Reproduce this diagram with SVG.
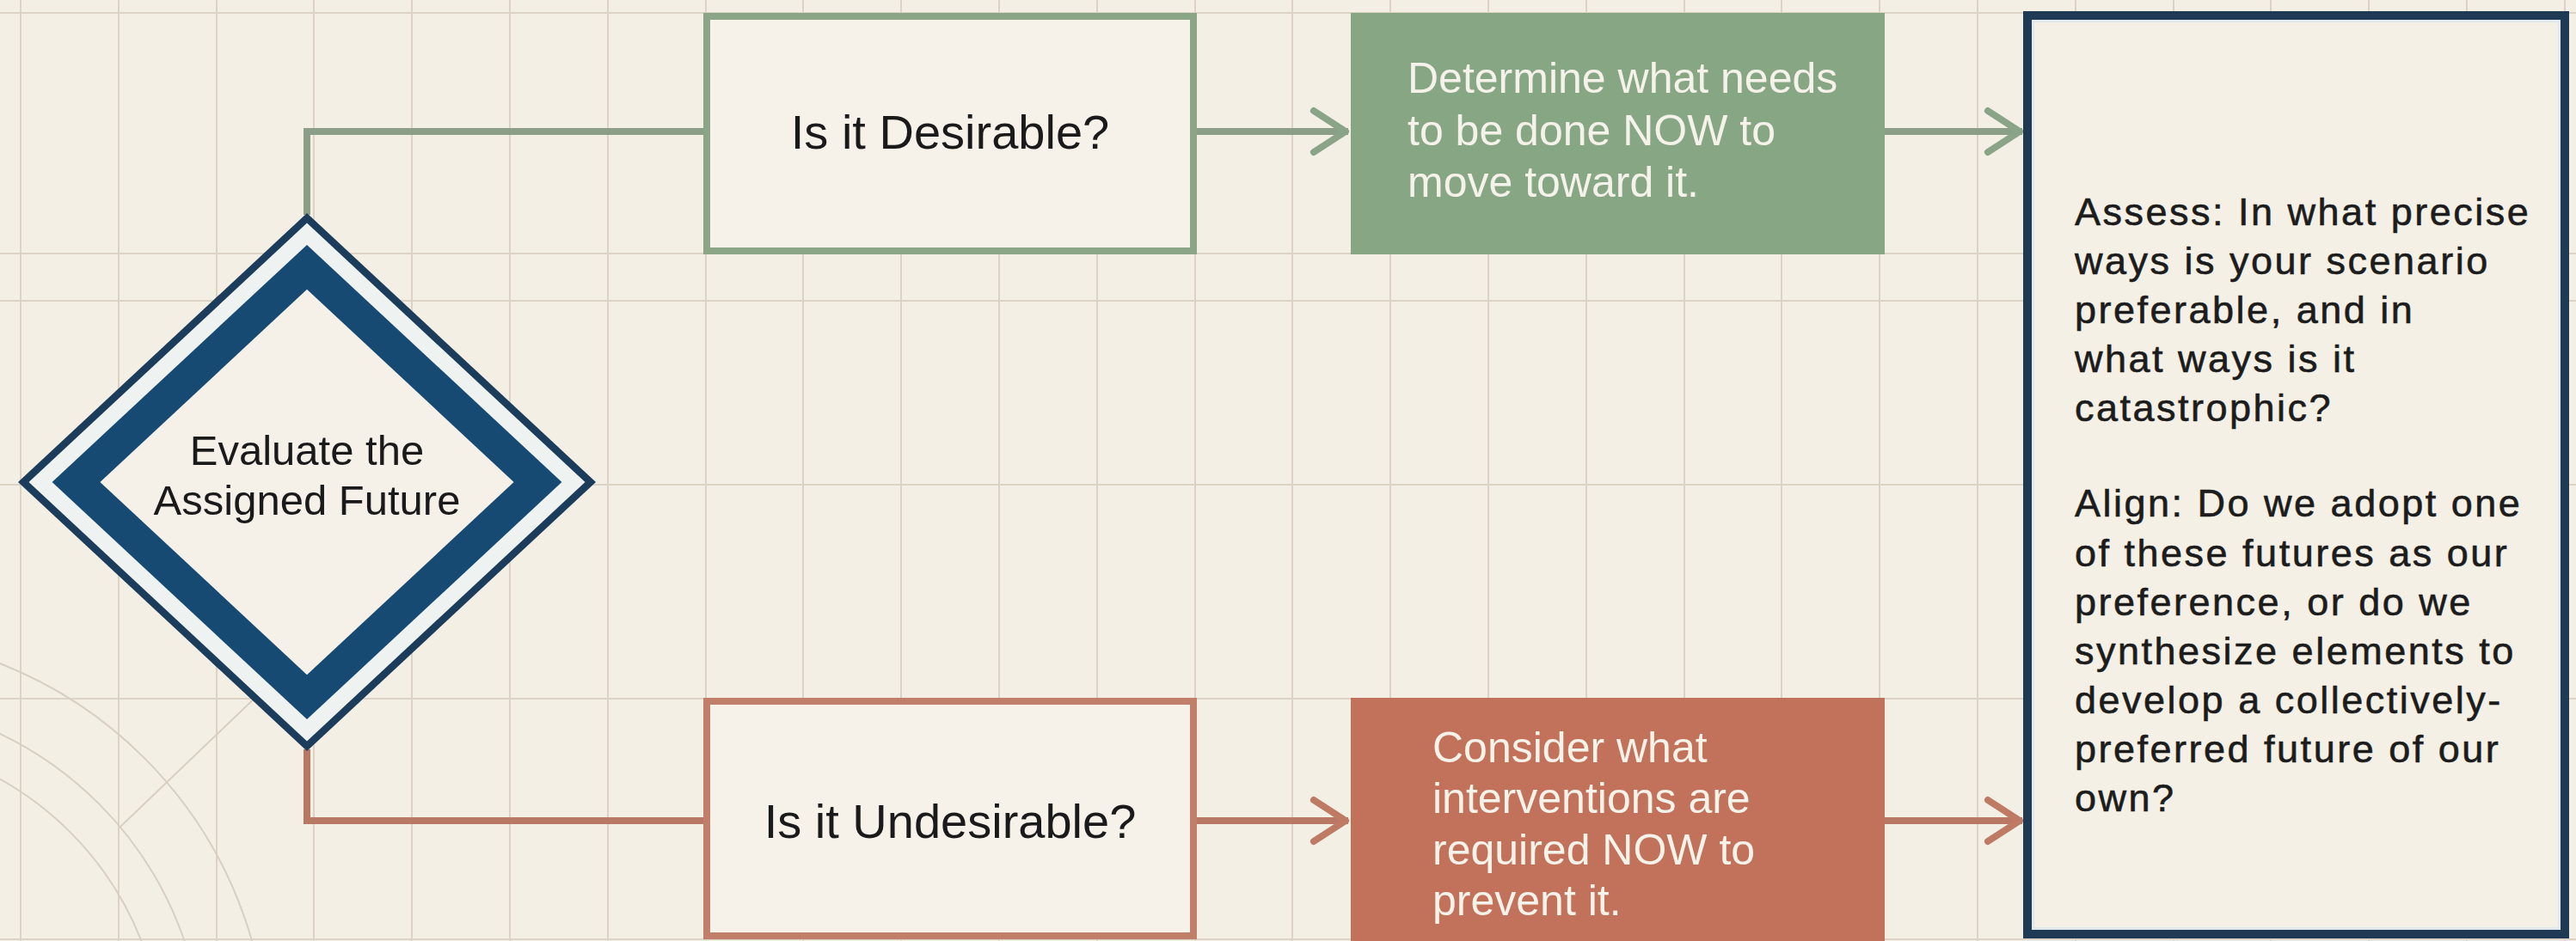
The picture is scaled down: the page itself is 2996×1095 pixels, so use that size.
<svg xmlns="http://www.w3.org/2000/svg" width="2996" height="1095" viewBox="0 0 2996 1095">
  <style>
    .grid { stroke: #dcd2c5; stroke-width: 2; fill: none; }
    .arc { stroke: #d8cfc3; stroke-width: 2; fill: none; }
    .txt { font-family: "Liberation Sans", Arial, sans-serif; fill: #1a1a1a; }
    .wtxt { font-family: "Liberation Sans", Arial, sans-serif; fill: #f5f2ea; font-size: 50px; }
    .panel { font-family: "Liberation Sans", Arial, sans-serif; fill: #1c1c1c; stroke: #1c1c1c; stroke-width: 0.6; font-size: 45px; letter-spacing: 2.5px; }
    .cg { stroke: #8b9f88; stroke-width: 8; fill: none; }
    .cr { stroke: #b97864; stroke-width: 8; fill: none; }
  </style>
  <defs>
    <marker id="arrow-green" viewBox="-50 -30 56 60" markerWidth="56" markerHeight="60" refX="0" refY="0" orient="auto" markerUnits="userSpaceOnUse">
      <path d="M-40,-24 L-3,0 L-40,24" fill="none" stroke="#8aa487" stroke-width="8" stroke-linecap="round" stroke-linejoin="round"/>
    </marker>
    <marker id="arrow-red" viewBox="-50 -30 56 60" markerWidth="56" markerHeight="60" refX="0" refY="0" orient="auto" markerUnits="userSpaceOnUse">
      <path d="M-40,-24 L-3,0 L-40,24" fill="none" stroke="#bf7a64" stroke-width="8" stroke-linecap="round" stroke-linejoin="round"/>
    </marker>
  </defs>

  <rect x="0" y="0" width="2996" height="1095" fill="#f4efe4"/>

  <g id="background-grid">
    <g class="grid">
      <line x1="0" y1="15" x2="2996" y2="15"/>
      <line x1="0" y1="295" x2="2996" y2="295"/>
      <line x1="0" y1="350" x2="2996" y2="350"/>
      <line x1="0" y1="564" x2="2996" y2="564"/>
      <line x1="0" y1="813" x2="2996" y2="813"/>
      <line x1="0" y1="1093" x2="2996" y2="1093"/>
      <line x1="24" y1="0" x2="24" y2="1095"/>
      <line x1="138" y1="0" x2="138" y2="1095"/>
      <line x1="252" y1="0" x2="252" y2="1095"/>
      <line x1="365" y1="0" x2="365" y2="1095"/>
      <line x1="479" y1="0" x2="479" y2="1095"/>
      <line x1="593" y1="0" x2="593" y2="1095"/>
      <line x1="707" y1="0" x2="707" y2="1095"/>
      <line x1="821" y1="0" x2="821" y2="1095"/>
      <line x1="934" y1="0" x2="934" y2="1095"/>
      <line x1="1048" y1="0" x2="1048" y2="1095"/>
      <line x1="1162" y1="0" x2="1162" y2="1095"/>
      <line x1="1276" y1="0" x2="1276" y2="1095"/>
      <line x1="1390" y1="0" x2="1390" y2="1095"/>
      <line x1="1503" y1="0" x2="1503" y2="1095"/>
      <line x1="1617" y1="0" x2="1617" y2="1095"/>
      <line x1="1731" y1="0" x2="1731" y2="1095"/>
      <line x1="1845" y1="0" x2="1845" y2="1095"/>
      <line x1="1959" y1="0" x2="1959" y2="1095"/>
      <line x1="2072" y1="0" x2="2072" y2="1095"/>
      <line x1="2186" y1="0" x2="2186" y2="1095"/>
      <line x1="2300" y1="0" x2="2300" y2="1095"/>
      <line x1="2414" y1="0" x2="2414" y2="1095"/>
      <line x1="2528" y1="0" x2="2528" y2="1095"/>
      <line x1="2641" y1="0" x2="2641" y2="1095"/>
      <line x1="2755" y1="0" x2="2755" y2="1095"/>
      <line x1="2869" y1="0" x2="2869" y2="1095"/>
      <line x1="2983" y1="0" x2="2983" y2="1095"/>
    </g>
    <g class="arc">
      <circle cx="-180" cy="1230" r="370"/>
      <circle cx="-180" cy="1230" r="417"/>
      <circle cx="-180" cy="1230" r="492"/>
      <line x1="140" y1="962" x2="330" y2="780"/>
    </g>
  </g>

  <g id="connectors">
    <path class="cg" d="M357,250 V153 H820"/>
    <path class="cr" d="M357,872 V955 H820"/>
    <line class="cg" x1="1392" y1="153" x2="1568" y2="153" marker-end="url(#arrow-green)"/>
    <line class="cg" x1="2192" y1="153" x2="2352" y2="153" marker-end="url(#arrow-green)"/>
    <line class="cr" x1="1392" y1="955" x2="1568" y2="955" marker-end="url(#arrow-red)"/>
    <line class="cr" x1="2192" y1="955" x2="2352" y2="955" marker-end="url(#arrow-red)"/>
  </g>

  <g id="node-evaluate">
    <polygon points="357,248 693,561 357,874 21,561" fill="#1b3c5a"/>
    <polygon points="357,259.6 680.5,561 357,862.4 33.5,561" fill="#eef2f1"/>
    <polygon points="357,284.9 653.4,561 357,837.1 60.6,561" fill="#164a72"/>
    <polygon points="357,336.8 597.6,561 357,785.2 116.4,561" fill="#f5f1e8"/>
    <text class="txt" font-size="49" text-anchor="middle" x="357" y="541">Evaluate the</text>
    <text class="txt" font-size="49" text-anchor="middle" x="357" y="599">Assigned Future</text>
  </g>

  <g id="node-desirable">
    <rect x="822" y="19" width="566" height="273" fill="#f6f2e9" stroke="#8aa687" stroke-width="8"/>
    <text class="txt" font-size="56" text-anchor="middle" x="1105" y="173">Is it Desirable?</text>
  </g>

  <g id="node-undesirable">
    <rect x="822" y="816" width="566" height="273" fill="#f6f2e9" stroke="#c17e68" stroke-width="8"/>
    <text class="txt" font-size="56" text-anchor="middle" x="1105" y="975">Is it Undesirable?</text>
  </g>

  <g id="node-determine">
    <rect x="1571" y="15" width="621" height="281" fill="#87a684"/>
    <text class="wtxt" x="1637" y="108">Determine what needs</text>
    <text class="wtxt" x="1637" y="169">to be done NOW to</text>
    <text class="wtxt" x="1637" y="229">move toward it.</text>
  </g>

  <g id="node-consider">
    <rect x="1571" y="812" width="621" height="283" fill="#c2725a"/>
    <text class="wtxt" x="1666" y="887">Consider what</text>
    <text class="wtxt" x="1666" y="946">interventions are</text>
    <text class="wtxt" x="1666" y="1006">required NOW to</text>
    <text class="wtxt" x="1666" y="1065">prevent it.</text>
  </g>

  <g id="node-assess-align">
    <rect x="2358" y="18" width="625" height="1069" fill="#f4f0e6" stroke="#1e3a55" stroke-width="10"/>
    <rect x="2364.5" y="24.5" width="612" height="1056" fill="none" stroke="#e2e9ec" stroke-width="3"/>
    <text class="panel" x="2413" y="262">Assess: In what precise</text>
    <text class="panel" x="2413" y="319">ways is your scenario</text>
    <text class="panel" x="2413" y="376">preferable, and in</text>
    <text class="panel" x="2413" y="433">what ways is it</text>
    <text class="panel" x="2413" y="490">catastrophic?</text>
    <text class="panel" x="2413" y="601">Align: Do we adopt one</text>
    <text class="panel" x="2413" y="659">of these futures as our</text>
    <text class="panel" x="2413" y="716">preference, or do we</text>
    <text class="panel" x="2413" y="773">synthesize elements to</text>
    <text class="panel" x="2413" y="830">develop a collectively-</text>
    <text class="panel" x="2413" y="887">preferred future of our</text>
    <text class="panel" x="2413" y="944">own?</text>
  </g>
</svg>
